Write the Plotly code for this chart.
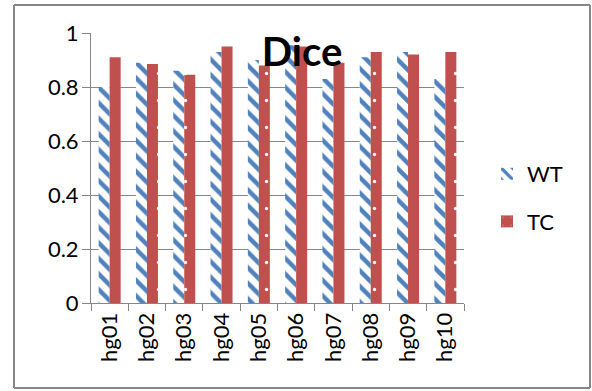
import plotly.graph_objects as go

categories = ["hg01", "hg02", "hg03", "hg04", "hg05", "hg06", "hg07", "hg08", "hg09", "hg10"]
wt_values = [0.80, 0.89, 0.86, 0.93, 0.90, 0.955, 0.83, 0.91, 0.93, 0.83]
tc_values = [0.91, 0.885, 0.845, 0.95, 0.88, 0.95, 0.89, 0.93, 0.92, 0.93]
y_ticks = [0, 0.2, 0.4, 0.6, 0.8, 1]
y_tick_labels = ["0", "0.2", "0.4", "0.6", "0.8", "1"]

FONT = "Lato"
GRAY = "#868686"

fig = go.Figure()
fig.add_trace(go.Bar(
    x=categories, y=wt_values, name="WT", legendgroup="a",
    marker=dict(color="white", line=dict(width=0),
                pattern=dict(shape="\\", fgcolor="#4F81BD", bgcolor="white", fgopacity=1,
                             size=11, solidity=0.4, fillmode="overlay")),
))
fig.add_trace(go.Bar(
    x=categories, y=tc_values, name="TC", legendgroup="b",
    marker=dict(color="#C0504D", line=dict(width=0),
                pattern=dict(shape=".", fgcolor="white", bgcolor="#C0504D", fgopacity=1,
                             size=27, solidity=0.012, fillmode="overlay")),
))

fig.update_layout(
    width=592, height=391,
    paper_bgcolor="white", plot_bgcolor="white",
    margin=dict(l=91, r=128, t=33, b=88, autoexpand=False),
    font=dict(family=FONT, size=22, color="black"),
    barmode="group", bargap=0.41, bargroupgap=0,
    title=dict(text="<b>Dice</b>", font=dict(family=FONT, size=40, color="black"),
               x=302 / 592, xanchor="center", xref="container",
               y=1 - 52 / 391, yanchor="middle", yref="container"),
    legend=dict(x=(487 - 91) / 373, y=(303 - 153) / 270, xanchor="left", yanchor="top",
                font=dict(family=FONT, size=22), tracegroupgap=16,
                bgcolor="rgba(0,0,0,0)", traceorder="grouped"),
    showlegend=True,
)
fig.update_xaxes(
    type="category", showline=True, linecolor=GRAY, linewidth=1,
    ticks="outside", ticklen=7, tickcolor=GRAY, tickson="boundaries",
    tickangle=-90, showgrid=False, tickfont=dict(family=FONT, size=22),
)
fig.update_yaxes(
    range=[0, 1], tickvals=y_ticks, ticktext=y_tick_labels,
    showline=True, linecolor=GRAY, linewidth=1,
    ticks="outside", ticklen=8, tickcolor=GRAY,
    showgrid=True, gridcolor=GRAY, gridwidth=1, zeroline=False,
    tickfont=dict(family=FONT, size=22), ticklabelstandoff=-1,
)
bx0, bx1 = (14 - 91) / 373, (590 - 91) / 373
by0, by1 = (303 - 388) / 270, (303 - 5) / 270
for (xa, ya, xb, yb) in [(bx0, by0, bx1, by0), (bx0, by1, bx1, by1),
                         (bx0, by0, bx0, by1), (bx1, by0, bx1, by1)]:
    fig.add_shape(type="line", xref="paper", yref="paper", x0=xa, y0=ya, x1=xb, y1=yb,
                  line=dict(color=GRAY, width=2), layer="above")

fig.write_html("out.html", config={"displayModeBar": False},
               post_script="document.body.style.margin='0';document.body.style.overflow='hidden';document.documentElement.style.overflow='hidden';")
